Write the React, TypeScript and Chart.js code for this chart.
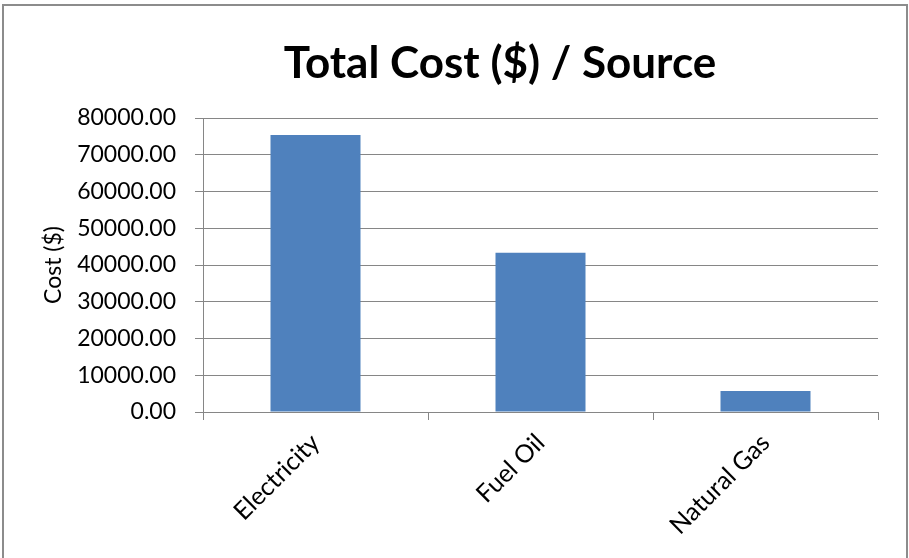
import React, { useEffect, useRef } from "react";
import { Chart, registerables } from "chart.js";

Chart.register(...registerables);

const categories = ["Electricity", "Fuel Oil", "Natural Gas"];
const costValues = [75400, 43300, 5700];
const chartTitle = "Total Cost ($) / Source";
const yAxisTitle = "Cost ($)";
const yMin = 0;
const yMax = 80000;
const yStep = 10000;

const FONT = "Lato, 'Open Sans', sans-serif";
const GRID = "#868686";

const titlePlugin = {
  id: "centeredTitle",
  afterDraw(chart: any) {
    const ctx = chart.ctx;
    ctx.save();
    ctx.fillStyle = "#000";
    ctx.font = `bold 44px ${FONT}`;
    ctx.textAlign = "center";
    ctx.textBaseline = "middle";
    ctx.fillText(chartTitle, 500, 64);
    ctx.restore();
  },
};

export default function App() {
  const canvasRef = useRef<HTMLCanvasElement | null>(null);

  useEffect(() => {
    const canvas = canvasRef.current;
    if (!canvas) return;
    const chart = new Chart(canvas, {
      type: "bar",
      data: {
        labels: categories,
        datasets: [
          {
            label: "Cost",
            data: costValues,
            backgroundColor: "#4F81BD",
            borderColor: "#4F81BD",
            borderWidth: 0,
            barPercentage: 0.4,
            categoryPercentage: 1,
          },
        ],
      },
      plugins: [titlePlugin],
      options: {
        responsive: false,
        animation: false,
        devicePixelRatio: 1,
        layout: { padding: { left: 0, right: 31, top: 118, bottom: 0 } },
        plugins: {
          legend: { display: false },
          tooltip: { enabled: false },
          title: { display: false },
        },
        scales: {
          x: {
            grid: {
              offset: true,
              drawOnChartArea: false,
              drawTicks: true,
              tickLength: 8,
              color: GRID,
              lineWidth: 1,
            },
            border: { display: true, color: GRID, width: 1 },
            ticks: {
              color: "#000",
              font: { family: FONT, size: 25 },
              minRotation: 45,
              maxRotation: 45,
              padding: 8,
              autoSkip: false,
            },
            afterFit: (scale: any) => {
              scale.height = 146;
            },
          },
          y: {
            min: yMin,
            max: yMax,
            grid: {
              drawOnChartArea: true,
              drawTicks: true,
              tickLength: 8,
              color: GRID,
              lineWidth: 1,
            },
            border: { display: true, color: GRID, width: 1 },
            ticks: {
              stepSize: yStep,
              color: "#000",
              font: { family: FONT, size: 23 },
              padding: 19,
              callback: (v: any) => Number(v).toFixed(2),
            },
            title: {
              display: true,
              text: yAxisTitle,
              color: "#000",
              font: { family: FONT, size: 23, lineHeight: 1.2 },
              padding: { top: 40, bottom: 0 },
            },
            afterFit: (scale: any) => {
              scale.width = 203;
            },
          },
        },
      },
    });
    return () => chart.destroy();
  }, []);

  return (
    <div
      style={{
        position: "fixed",
        left: 0,
        top: 0,
        width: 909,
        height: 558,
        background: "#fff",
        overflow: "hidden",
      }}
    >
      <canvas
        ref={canvasRef}
        width={909}
        height={558}
        style={{ display: "block", width: 909, height: 558 }}
      />
      <div
        style={{
          position: "absolute",
          left: 2,
          top: 4,
          width: 902,
          height: 600,
          borderTop: "2px solid #8c8c8c",
          borderLeft: "2px solid #8c8c8c",
          borderRight: "2px solid #8c8c8c",
          pointerEvents: "none",
        }}
      />
    </div>
  );
}
